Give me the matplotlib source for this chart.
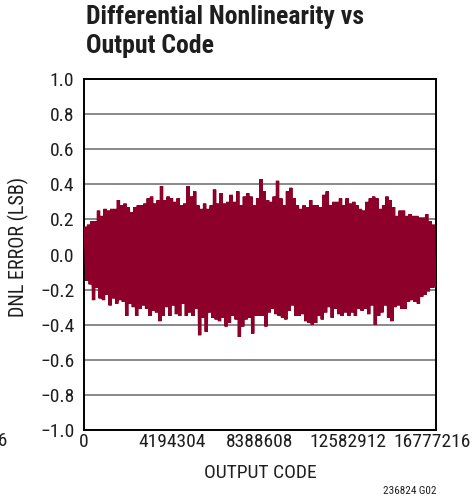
import numpy as np
import matplotlib
matplotlib.use("Agg")
import matplotlib.pyplot as plt
from matplotlib import font_manager
from matplotlib.transforms import ScaledTranslation

# peaks (top) and troughs (bottom) of the DNL band, read left to right
dnl_top = [
    0.15, 0.17, 0.19, 0.19, 0.25, 0.22, 0.26, 0.25, 0.26, 0.26, 0.31, 0.28, 0.29, 0.27,
    0.24, 0.27, 0.28, 0.28, 0.29, 0.32, 0.33, 0.29, 0.31, 0.39, 0.31, 0.33, 0.32,
    0.30, 0.32, 0.28, 0.29, 0.39, 0.33, 0.36, 0.28, 0.26, 0.29, 0.26, 0.28, 0.37, 0.29,
    0.35, 0.29, 0.30, 0.34, 0.30, 0.36, 0.28, 0.33, 0.35, 0.33, 0.28, 0.32, 0.43,
    0.36, 0.31, 0.30, 0.33, 0.42, 0.32, 0.28, 0.36, 0.38, 0.32, 0.28, 0.26, 0.28, 0.27,
    0.31, 0.28, 0.28, 0.27, 0.34, 0.36, 0.28, 0.30, 0.30, 0.32, 0.28, 0.32, 0.29,
    0.30, 0.28, 0.26, 0.25, 0.30, 0.32, 0.33, 0.32, 0.26, 0.28, 0.33, 0.31, 0.27, 0.22,
    0.25, 0.25, 0.22, 0.23, 0.22, 0.22, 0.21, 0.21, 0.23, 0.19, 0.17,
]
dnl_bottom = [
    -0.15, -0.17, -0.26, -0.19, -0.25, -0.26, -0.23, -0.29, -0.25, -0.28, -0.26, -0.27, -0.35, -0.28,
    -0.30, -0.35, -0.31, -0.29, -0.31, -0.35, -0.32, -0.33, -0.38, -0.35, -0.30, -0.35, -0.29,
    -0.34, -0.35, -0.28, -0.35, -0.33, -0.35, -0.31, -0.46, -0.36, -0.44, -0.33, -0.36, -0.37, -0.38,
    -0.36, -0.41, -0.39, -0.35, -0.37, -0.47, -0.41, -0.37, -0.36, -0.45, -0.35, -0.35, -0.35,
    -0.41, -0.33, -0.31, -0.34, -0.35, -0.36, -0.37, -0.32, -0.29, -0.35, -0.35, -0.34, -0.38, -0.39,
    -0.40, -0.39, -0.35, -0.37, -0.33, -0.30, -0.36, -0.31, -0.34, -0.35, -0.33, -0.35, -0.33,
    -0.35, -0.31, -0.32, -0.31, -0.34, -0.29, -0.40, -0.35, -0.33, -0.29, -0.36, -0.38, -0.30, -0.29,
    -0.31, -0.31, -0.27, -0.26, -0.27, -0.28, -0.24, -0.23, -0.21, -0.19, -0.18,
]
x_ticks = [0, 4194304, 8388608, 12582912, 16777216]
y_ticks = [-1.0, -0.8, -0.6, -0.4, -0.2, 0.0, 0.2, 0.4, 0.6, 0.8, 1.0]

installed = {f.name for f in font_manager.fontManager.ttflist}
narrow = [f for f in ["Liberation Sans Narrow", "Roboto Condensed", "Open Sans Condensed",
                      "DejaVu Sans Condensed", "Liberation Sans"] if f in installed]
family = narrow[0] if narrow else "DejaVu Sans"
plt.rcParams["font.family"] = [family, "DejaVu Sans"]
ink = "#1e1e1e"

n = len(dnl_top)
codes = np.linspace(60000, 16650000, n)
step = codes[1] - codes[0]
xs = np.empty(2 * n)
ys = np.empty(2 * n)
xs[0::2] = codes
xs[1::2] = codes + step / 2
ys[0::2] = dnl_top
ys[1::2] = dnl_bottom

fig = plt.figure(figsize=(4.73, 5.01), dpi=100)
ax = fig.add_axes([84 / 473, 1 - 430 / 501, 352 / 473, 351 / 501])

ax.plot(xs, ys, color="#8c0029", lw=2.4, solid_joinstyle="miter", zorder=3)

ax.set_xlim(0, 16777216)
ax.set_ylim(-1.0, 1.0)
ax.set_xticks(x_ticks)
ax.set_xticklabels([str(t) for t in x_ticks])
ax.set_yticks(y_ticks)
ax.set_yticklabels([f"{t:.1f}".replace("-", "\u2212") for t in y_ticks])
ax.tick_params(length=0, labelsize=14, colors=ink)
ax.tick_params(axis="y", pad=7)
ax.tick_params(axis="x", pad=2.5)
ax.grid(axis="y", color="#808080", lw=1.3)
ax.set_axisbelow(True)
for s in ax.spines.values():
    s.set_linewidth(1.4)
    s.set_color("black")

# keep the last code label inside the picture
last = ax.get_xticklabels()[-1]
last.set_transform(last.get_transform() + ScaledTranslation(-4 / 100, 0, fig.dpi_scale_trans))

ax.set_ylabel("DNL ERROR (LSB)", fontsize=14.5, color=ink)
ax.yaxis.set_label_coords((29 - 84) / 352, (430 - 247) / 351)
fig.text(260 / 473, 1 - 473 / 501, "OUTPUT CODE", fontsize=14, color=ink,
         ha="center", va="center")
fig.text(8 / 473, 1 - 441 / 501, "16777216", fontsize=14, color=ink,
         ha="right", va="center")
fig.text(436 / 473, 1 - 491 / 501, "236824 G02", fontsize=8, color=ink,
         ha="right", va="center")

fig.text(86 / 473, 1 - 5 / 501, "Differential Nonlinearity vs\nOutput Code",
         fontsize=18.5, fontweight="bold", color=ink, ha="left", va="top",
         linespacing=1.27)

fig.savefig("out.png", dpi=100)
